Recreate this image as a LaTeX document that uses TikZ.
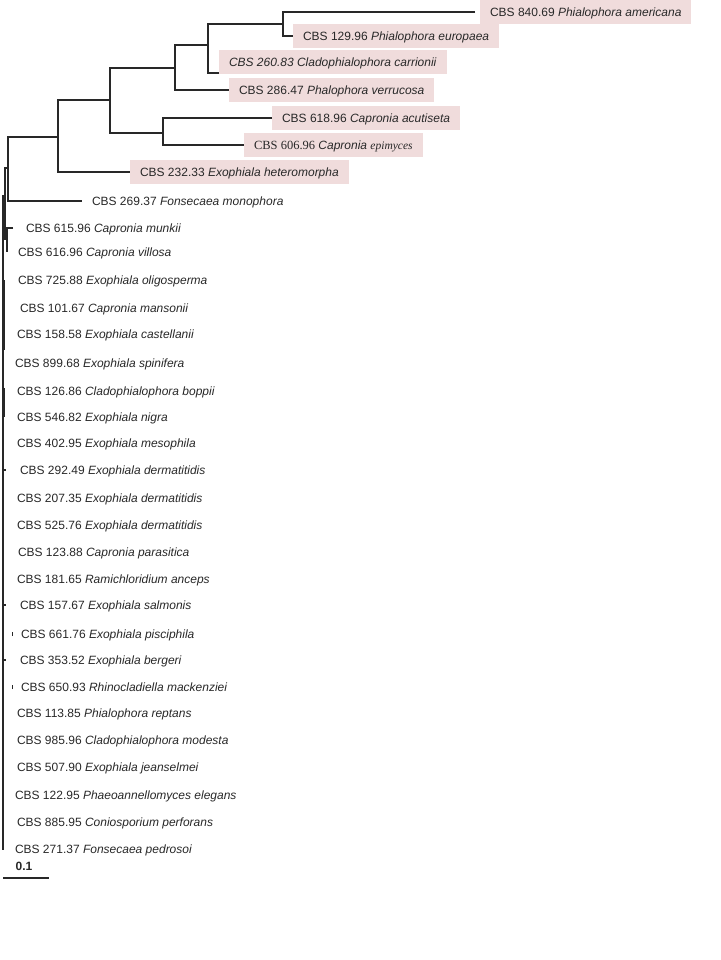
\documentclass[tikz,border=0pt]{standalone}
\usepackage{fontspec}
\setmainfont{Liberation Sans}
\newfontfamily\tnr{Liberation Serif}
\definecolor{hlpink}{RGB}{240,220,220}
\definecolor{ink}{RGB}{40,40,40}
\begin{document}
\begin{tikzpicture}[x=1pt,y=-1pt,
  lbl/.style={anchor=west, inner xsep=0pt, inner ysep=0pt, outer sep=0pt, text height=8.6pt, text depth=0pt, font=\fontsize{12}{14}\selectfont, text=ink},
  hl/.style={lbl, fill=hlpink, inner xsep=10pt, minimum height=24pt},
  br/.style={draw=ink, line width=1.1pt},
  thick branch/.style={draw=ink, line width=2pt},
]
\useasboundingbox[fill=white] (0,0) rectangle (720,960);

% highlighted leaves
\node[hl] (amer) at (480,12)   {CBS 840.69 \textit{Phialophora americana}};
\node[hl] (euro) at (293,36)   {CBS 129.96 \textit{Phialophora europaea}};
\node[hl] (carr) at (219,62.5) {\textit{CBS 260.83 Cladophialophora carrionii}};
\node[hl] (verr) at (229,90)   {CBS 286.47 \textit{Phalophora verrucosa}};
\node[hl] (acut) at (272,118)  {CBS 618.96 \textit{Capronia acutiseta}};
\node[hl] (epim) at (244,145)  {{\tnr\fontsize{12.5}{14}\selectfont CBS 606.96} \textit{Capronia} {\tnr\itshape\fontsize{11.5}{13}\selectfont epimyces}};
\node[hl] (hetr) at (130,172)  {CBS 232.33 \textit{Exophiala heteromorpha}};

% plain leaves
\node[lbl] (mono) at (92,201)  {CBS 269.37 \textit{Fonsecaea monophora}};
\node[lbl] (munk) at (26,228)  {CBS 615.96 \textit{Capronia munkii}};
\node[lbl] (vill) at (18,252)  {CBS 616.96 \textit{Capronia villosa}};
\node[lbl] (olig) at (18,280)  {CBS 725.88 \textit{Exophiala oligosperma}};
\node[lbl] (mans) at (20,308)  {CBS 101.67 \textit{Capronia mansonii}};
\node[lbl] (cast) at (17,334)  {CBS 158.58 \textit{Exophiala castellanii}};
\node[lbl] (spin) at (15,363)  {CBS 899.68 \textit{Exophiala spinifera}};
\node[lbl] (bopp) at (17,391)  {CBS 126.86 \textit{Cladophialophora boppii}};
\node[lbl] (nigr) at (17,417)  {CBS 546.82 \textit{Exophiala nigra}};
\node[lbl] (meso) at (17,443)  {CBS 402.95 \textit{Exophiala mesophila}};
\node[lbl] (derA) at (20,470)  {CBS 292.49 \textit{Exophiala dermatitidis}};
\node[lbl] (derB) at (17,498)  {CBS 207.35 \textit{Exophiala dermatitidis}};
\node[lbl] (derC) at (17,525)  {CBS 525.76 \textit{Exophiala dermatitidis}};
\node[lbl] (para) at (18,552)  {CBS 123.88 \textit{Capronia parasitica}};
\node[lbl] (rami) at (17,579)  {CBS 181.65 \textit{Ramichloridium anceps}};
\node[lbl] (salm) at (20,605)  {CBS 157.67 \textit{Exophiala salmonis}};
\node[lbl] (pisc) at (21,634)  {CBS 661.76 \textit{Exophiala pisciphila}};
\node[lbl] (berg) at (20,660)  {CBS 353.52 \textit{Exophiala bergeri}};
\node[lbl] (rhin) at (21,687)  {CBS 650.93 \textit{Rhinocladiella mackenziei}};
\node[lbl] (rept) at (17,713)  {CBS 113.85 \textit{Phialophora reptans}};
\node[lbl] (mode) at (17,740)  {CBS 985.96 \textit{Cladophialophora modesta}};
\node[lbl] (jean) at (17,767)  {CBS 507.90 \textit{Exophiala jeanselmei}};
\node[lbl] (phae) at (15,795)  {CBS 122.95 \textit{Phaeoannellomyces elegans}};
\node[lbl] (coni) at (17,822)  {CBS 885.95 \textit{Coniosporium perforans}};
\node[lbl] (pedr) at (15,849)  {CBS 271.37 \textit{Fonsecaea pedrosoi}};

% internal nodes
\coordinate (n283) at (283,24);
\coordinate (n208) at (208,45);
\coordinate (n175) at (175,68);
\coordinate (n163) at (163,133);
\coordinate (n110) at (110,100);
\coordinate (n58)  at (58,137);
\coordinate (n8)   at (8,168);
\coordinate (n5)   at (5,205);
\coordinate (n5b)  at (5,240);
\coordinate (mk)   at (7,238);
\coordinate (rtop) at (3,195);
\coordinate (rbot) at (3,850);

% branches
\draw[br, shorten <=5pt] (amer.west) -| (n283) |- (euro.west);
\draw[br] (n283) -| (n208) |- ([yshift=-10.5pt]carr.west);
\draw[br] (n208) -| (n175) |- (verr.west);
\draw[br] (acut.west) -| (n163) |- (epim.west);
\draw[br] (n175) -| (n110) |- (n163);
\draw[br] (n110) -| (n58) |- (hetr.west);
\draw[br, shorten >=10pt] (n58) -| (n8) |- (mono.west);
\draw[br] (n8) -| (n5) -- (n5b);
\draw[br, shorten <=13pt, shorten >=11pt] (munk.west) -| (mk) |- (vill.west);
\draw[br] (rtop) -- (rbot);

% thicker stretches of the basal line
\coordinate (t1a) at (3.5,195); \coordinate (t1b) at (3.5,240);
\coordinate (t2a) at (4,280);   \coordinate (t2b) at (4,350);
\coordinate (t3a) at (4,388);   \coordinate (t3b) at (4,417);
\draw[thick branch] (t1a) -- (t1b);
\draw[thick branch] (t2a) -- (t2b);
\draw[thick branch] (t3a) -- (t3b);

% tiny terminal branches
\draw[br, shorten >=14pt] (rtop |- derA.west) -- (derA.west);
\draw[br, shorten >=15pt] (rtop |- para.west) -- (para.west);
\draw[br, shorten >=14pt] (rtop |- salm.west) -- (salm.west);
\draw[br, shorten >=14pt] (rtop |- berg.west) -- (berg.west);
\draw[draw=ink, line width=0.6pt] ([xshift=-9pt,yshift=-2pt]pisc.west) -- ([xshift=-9pt,yshift=2pt]pisc.west);
\draw[draw=ink, line width=0.6pt] ([xshift=-9pt,yshift=-2pt]rhin.west) -- ([xshift=-9pt,yshift=2pt]rhin.west);

% scale bar
\node[font=\fontsize{12}{14}\selectfont\bfseries, text=ink, inner sep=0pt] (sclbl) at (24,866) {0.1};
\coordinate (s0) at (3,878);
\coordinate (s1) at (49,878);
\draw[draw=ink, line width=1.2pt] (s0) -- (s1);
\end{tikzpicture}
\end{document}
